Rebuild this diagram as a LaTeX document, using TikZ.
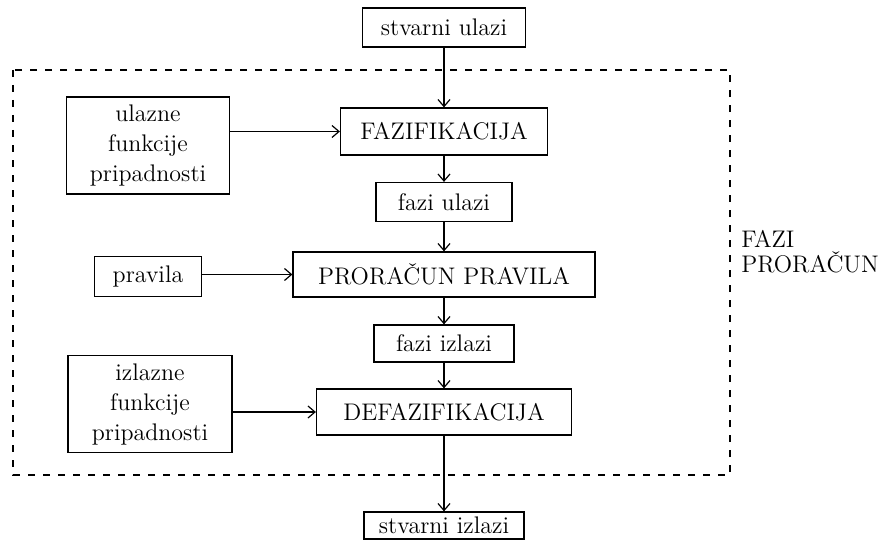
\documentclass[tikz,border=0pt]{standalone}
\usetikzlibrary{arrows.meta}

\begin{document}
\begin{tikzpicture}[->,>={Straight Barb[length=3.5pt,width=6pt]},auto,node distance=35pt,line width=0.6pt,
        every node/.style={font=\fontsize{12}{15}\selectfont},
        box/.style={draw,rectangle,inner sep=2pt,align=center}]

  \useasboundingbox (0,0) rectangle (444pt,-270pt);

  % glavni tok
  \node[box,minimum width=81.5pt,minimum height=19.5pt] (stvul) at (222pt,-13.75pt) {stvarni ulazi};
  \node[box,minimum width=103.5pt,minimum height=23.5pt] (faz) [below of=stvul,node distance=52pt] {FAZIFIKACIJA};
  \node[box,minimum width=68pt,minimum height=19.5pt] (fazul) [below of=faz,node distance=35.25pt] {fazi ulazi};
  \node[box,minimum width=151pt,minimum height=22.5pt] (pror) [below of=fazul,node distance=36.25pt] {PRORAČUN PRAVILA};
  \node[box,minimum width=70pt,minimum height=18.5pt] (fazizl) [below of=pror,node distance=34.5pt] {fazi izlazi};
  \node[box,minimum width=127.5pt,minimum height=23pt] (defaz) [below of=fazizl,node distance=34.25pt] {DEFAZIFIKACIJA};
  \node[box,minimum width=80pt,minimum height=13.5pt,inner sep=1pt] (stvizl) [below of=defaz,node distance=56.75pt] {stvarni izlazi};

  % ulazi sa strane
  \node[box,minimum width=81.5pt,minimum height=48.5pt] (ulfun) [left of=faz,node distance=148pt,yshift=-7pt] {ulazne\\funkcije\\pripadnosti};
  \node[box,minimum width=53.5pt,minimum height=20pt] (prav) [left of=pror,node distance=148pt,yshift=-1pt] {pravila};
  \node[box,minimum width=82pt,minimum height=48.5pt] (izfun) [left of=defaz,node distance=147pt,yshift=4pt] {izlazne\\funkcije\\pripadnosti};

  % okvir
  \draw[-,dash pattern=on 3.5pt off 4pt] (6.5pt,-35pt) rectangle (365pt,-237.5pt);
  \node[align=left,anchor=west,font=\fontsize{12}{12.5}\selectfont] (fp) at (367pt,-126pt) {FAZI\\PRORAČUN};

  \path (stvul)  edge (faz)
        (faz)    edge (fazul)
        (fazul)  edge (pror)
        (pror)   edge (fazizl)
        (fazizl) edge (defaz)
        (defaz)  edge (stvizl)
        (ulfun.east |- faz) edge (faz)
        (prav.east |- pror) edge (pror)
        (izfun.east |- defaz) edge (defaz);

\end{tikzpicture}
\end{document}
